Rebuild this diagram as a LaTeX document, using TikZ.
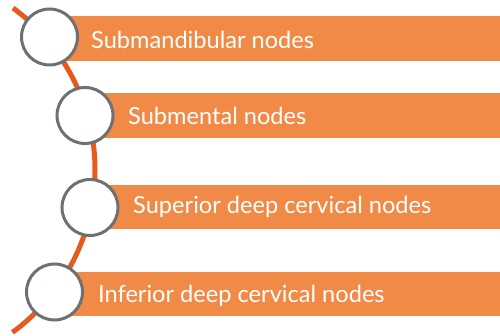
\documentclass[tikz,border=0pt]{standalone}
\usepackage{fontspec}
\setmainfont{Lato}
\definecolor{barorange}{HTML}{F28A47}
\definecolor{lineorange}{HTML}{E65A1E}
\definecolor{ringgray}{HTML}{6F7073}
\begin{document}
\begin{tikzpicture}[x=1pt,y=-1pt,
  bullet/.style={circle,draw=ringgray,fill=white,line width=3pt,minimum size=56pt,inner sep=0pt},
  barlabel/.style={anchor=base west,inner sep=0pt,text=white,font=\fontsize{23.6}{28}\selectfont},
  bar/.style={fill=barorange}]
\useasboundingbox (0,0) rectangle (500,336);
% spine curve behind everything
\draw[lineorange,line width=5pt] (13,8) arc[start angle=-53.7,end angle=53.9,radius=201];
% bars
\fill[bar] (49.5,16) rectangle (500,61);
\fill[bar] (85,93) rectangle (500,138);
\fill[bar] (90,185) rectangle (500,229);
\fill[bar] (54.5,272) rectangle (500,316);
% bullets
\node[bullet] (c1) at (49.5,37) {};
\node[bullet] (c2) at (85,115.5) {};
\node[bullet] (c3) at (90,207.5) {};
\node[bullet] (c4) at (54.5,292) {};
% labels
\node[barlabel] (t1) at (91,49) {Submandibular nodes};
\node[barlabel] (t2) at (128,124.5) {Submental nodes};
\node[barlabel] (t3) at (133,214) {Superior deep cervical nodes};
\node[barlabel] (t4) at (98,302) {Inferior deep cervical nodes};
\end{tikzpicture}
\end{document}
